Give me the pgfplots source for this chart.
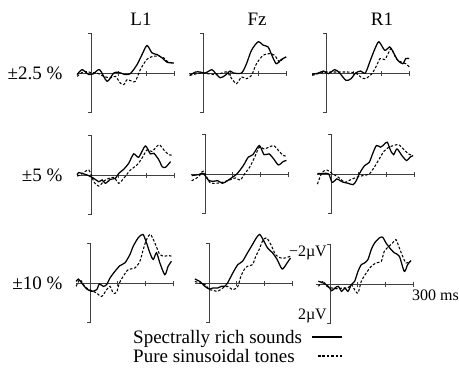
\documentclass[border=0pt]{standalone}
\usepackage{fontspec}
\setmainfont{Liberation Serif}
\usepackage{pgfplots}
\pgfplotsset{compat=1.18}
\pgfplotsset{
  erp/.style={scale only axis, width=97bp, height=79bp, xmin=-50, xmax=300,
    ymin=-2, ymax=2, y dir=reverse, hide axis, clip=false, anchor=origin},
  sol/.style={black, line width=1.25bp, smooth, tension=0.45, no marks},
  dsh/.style={black, line width=1.05bp, smooth, tension=0.45, no marks, dash pattern=on 2.6bp off 1.8bp},
}
\tikzset{axl/.style={black!75, line width=0.6bp}}
\newcommand\erpaxes{%
  \draw[axl] ([xshift=-3bp]axis cs:0,-2) -- (axis cs:0,-2) -- (axis cs:0,2) -- ([xshift=-3bp]axis cs:0,2);
  \draw[axl] (axis cs:-50,0) -- (axis cs:300,0);
  \draw[axl] ([yshift=-2.5bp]axis cs:100,0) -- ([yshift=2.5bp]axis cs:100,0);
  \draw[axl] ([yshift=-2.5bp]axis cs:200,0) -- ([yshift=2.5bp]axis cs:200,0);
  \draw[axl] ([yshift=-2.5bp]axis cs:300,0) -- ([yshift=2.5bp]axis cs:300,0);
}
\newcommand\bigfnt{\fontsize{19bp}{22bp}\selectfont}
\newcommand\smallfnt{\fontsize{16bp}{19bp}\selectfont}
\begin{document}
\begin{tikzpicture}
\useasboundingbox (0,0) rectangle (459bp,-371bp);
% column titles
\node[font=\bigfnt] at (141bp,-19bp) {L1};
\node[font=\bigfnt] at (257bp,-19bp) {Fz};
\node[font=\bigfnt] at (382bp,-19bp) {R1};
% row titles
\node[font=\bigfnt, anchor=east] at (66bp,-73bp) {±2.5 \%};
\node[font=\bigfnt, anchor=east] at (66bp,-175bp) {±5 \%};
\node[font=\bigfnt, anchor=east] at (66bp,-283bp) {±10 \%};

% ---------- Row 1 ----------
\begin{axis}[erp, at={(91bp,-73bp)}]
\erpaxes
\addplot[sol] coordinates {(-50,0.08)(-32,-0.17)(-8,0.08)(10,0.03)(31,-0.17)(58,0.42)(82,0)(100,-0.03)(124,0.08)(142,0.03)(166,-0.42)(184,-0.93)(202,-1.39)(220,-1.02)(239,-0.93)(257,-0.76)(275,-0.54)(299,-0.51)};
\addplot[dsh] coordinates {(-50,0.17)(-26,-0.08)(-2,-0.03)(22,0)(46,0.17)(70,0.25)(88,0.17)(106,0.51)(118,0.59)(130,0.34)(148,0.42)(160,0.42)(178,-0.17)(196,-0.59)(208,-0.76)(226,-0.85)(245,-0.85)(263,-0.76)(275,-0.59)(293,-0.51)};
\end{axis}
\begin{axis}[erp, at={(203bp,-73bp)}]
\erpaxes
\addplot[sol] coordinates {(-48,0.12)(-27,-0.05)(-10,-0.05)(8,0)(32,-0.17)(44,0)(62,0.24)(80,0.12)(98,-0.1)(110,0)(139,0)(157,-0.47)(175,-1.15)(199,-1.58)(217,-1.41)(235,-1.32)(246,-0.98)(264,-0.47)(282,-0.68)(300,-0.81)};
\addplot[dsh] coordinates {(-48,0.12)(-10,0)(14,0.03)(38,0.07)(62,0.03)(86,-0.05)(104,0.29)(121,0.54)(139,0.2)(157,0.29)(175,0.12)(193,-0.47)(217,-0.9)(240,-0.98)(258,-0.9)(276,-0.56)(288,-0.73)(300,-0.81)};
\end{axis}
\begin{axis}[erp, at={(326bp,-73bp)}]
\erpaxes
\addplot[sol] coordinates {(-50,0.07)(-27,0)(-9,-0.1)(8,0.03)(32,-0.17)(49,0)(72,0.37)(90,0.29)(107,0)(125,-0.1)(142,0)(160,-0.64)(177,-1.24)(191,-1.58)(212,-1.15)(230,-1.32)(242,-1.07)(259,-0.64)(277,-0.47)(288,-0.73)(300,-0.73)};
\addplot[dsh] coordinates {(-50,0.12)(-27,0.03)(-4,-0.05)(14,-0.05)(37,-0.05)(61,-0.05)(78,-0.05)(107,0)(125,0.2)(142,0.29)(166,0.03)(183,-0.39)(195,-0.73)(212,-0.68)(224,-0.98)(236,-1.24)(253,-0.73)(271,-0.56)(288,-0.47)(300,-0.31)};
\end{axis}

% ---------- Row 2 ----------
\begin{axis}[erp, at={(91bp,-175bp)}]
\erpaxes
\addplot[sol] coordinates {(-50,0)(-45,-0.12)(-33,-0.08)(-14,0)(10,0.17)(28,0.34)(40,0.25)(52,0.42)(70,0.22)(88,0.17)(100,-0.08)(118,-0.29)(136,-0.59)(154,-1.07)(172,-0.9)(196,-1.47)(214,-1.07)(227,-1.1)(245,-0.76)(257,-0.42)(269,-0.39)(287,-0.68)};
\addplot[dsh] coordinates {(-50,0.05)(-39,0)(-8,-0.25)(10,0.34)(28,0.56)(52,0.25)(82,0.12)(100,0.42)(118,0.17)(142,-0.25)(166,-0.51)(184,-0.85)(202,-1.27)(220,-1.19)(245,-1.53)(263,-1.27)(281,-1.02)(293,-1.02)};
\end{axis}
\begin{axis}[erp, at={(205bp,-174bp)}]
\erpaxes
\addplot[sol] coordinates {(-48,0.08)(-23,0.03)(-6,-0.03)(12,0.31)(29,0.37)(46,0.34)(63,0.47)(81,0.34)(98,0.17)(115,0)(138,-0.42)(156,-0.85)(173,-0.98)(196,-1.44)(213,-0.98)(231,-1.02)(248,-0.76)(265,-0.46)(283,-0.64)(294,-0.68)};
\addplot[dsh] coordinates {(-48,0.34)(-23,0.14)(-6,-0.14)(17,0.42)(40,0.47)(63,0.42)(87,0.31)(110,0.2)(127,0.31)(144,-0.03)(161,-0.34)(179,-0.85)(196,-1.36)(213,-1.27)(231,-1.36)(248,-1.44)(265,-1.19)(283,-0.93)(294,-0.93)};
\end{axis}
\begin{axis}[erp, at={(331bp,-174bp)}]
\erpaxes
\addplot[sol] coordinates {(-49,-0.03)(-26,-0.03)(-8,0)(4,0.42)(21,0.25)(33,0.34)(45,0.42)(62,0.47)(80,0.54)(91,0.34)(103,-0.03)(121,-0.42)(138,-0.59)(150,-1.02)(164,-1.44)(179,-1.36)(191,-1.49)(203,-1.61)(215,-1.19)(226,-0.98)(238,-1.27)(256,-0.93)(273,-0.68)(285,-0.85)(296,-0.93)};
\addplot[dsh] coordinates {(-49,0.51)(-32,-0.08)(-14,-0.2)(4,-0.03)(27,0.17)(50,0.42)(68,0.31)(91,0.17)(115,0.08)(138,0)(156,-0.34)(174,-0.76)(191,-1.15)(209,-1.36)(226,-1.44)(244,-1.49)(261,-1.27)(279,-1.02)(296,-0.93)};
\end{axis}

% ---------- Row 3 ----------
\begin{axis}[erp, at={(90bp,-283bp)}]
\erpaxes
\addplot[sol] coordinates {(-50,-0.08)(-42,-0.2)(-30,0)(-12,0.3)(6,0.42)(24,0.34)(34,0.05)(48,0.17)(60,0.08)(72,-0.25)(90,-0.59)(108,-0.88)(126,-1.02)(144,-1.44)(156,-1.86)(174,-2.29)(191,-2.46)(204,-2.03)(216,-1.53)(228,-1.19)(240,-1.53)(252,-1.02)(270,-0.42)(282,-0.85)(294,-1.1)};
\addplot[dsh] coordinates {(-50,0.17)(-36,-0.17)(-18,0.2)(0,0.34)(24,0.51)(42,0.68)(60,0.34)(72,0.17)(84,0.51)(96,0.47)(106,0)(120,-0.34)(138,-0.68)(162,-0.76)(180,-1.1)(192,-1.69)(204,-2.2)(218,-2.46)(234,-2.03)(252,-1.44)(270,-1.36)(282,-1.39)(294,-1.36)};
\end{axis}
\begin{axis}[erp, at={(209bp,-283bp)}]
\erpaxes
\addplot[sol] coordinates {(-51,-0.2)(-33,-0.08)(-15,0.17)(2,0.31)(14,0.25)(32,0.25)(44,0.17)(56,0.17)(68,-0.03)(86,-0.51)(104,-0.93)(121,-1.1)(139,-1.53)(157,-1.95)(171,-2.29)(183,-2.46)(195,-2.2)(211,-1.78)(229,-1.53)(246,-1.19)(264,-0.71)(282,-1.02)(294,-1.27)};
\addplot[dsh] coordinates {(-51,-0.08)(-33,0)(-15,0.08)(2,0.34)(14,0.37)(32,0.42)(50,0.25)(68,0.17)(86,0.34)(104,0.17)(115,-0.34)(127,-0.68)(139,-0.85)(157,-0.93)(169,-1.36)(181,-1.69)(193,-2.12)(207,-2.29)(223,-1.95)(240,-1.44)(258,-1.27)(276,-1.27)(294,-1.36)};
\end{axis}
\begin{axis}[erp, at={(330bp,-284bp)}]
\erpaxes
\addplot[sol] coordinates {(-42,-0.14)(-24,-0.05)(-6,0.12)(6,0.34)(18,0.2)(30,0.12)(42,0.37)(54,0.2)(65,0.37)(77,0.03)(89,-0.14)(101,-0.64)(113,-0.98)(125,-1.07)(137,-1.24)(149,-1.75)(161,-2.08)(179,-2.34)(190,-2.37)(202,-2.08)(220,-1.75)(232,-1.58)(250,-1.41)(268,-0.64)(280,-0.98)(292,-1.19)};
\addplot[dsh] coordinates {(-42,0.12)(-24,-0.14)(-12,0.12)(6,0.2)(24,0.24)(48,0.2)(65,0.2)(77,0.03)(89,0.29)(101,0.46)(113,-0.14)(131,-0.56)(149,-0.9)(167,-1.07)(185,-1.15)(196,-1.66)(214,-1.92)(226,-2.08)(238,-2.25)(250,-1.83)(262,-1.41)(274,-1.07)(292,-1.15)};
\end{axis}

% scale labels
\node[font=\smallfnt, anchor=base east, inner sep=0pt] at (327bp,-256bp) {−2µV};
\node[font=\smallfnt, anchor=base east, inner sep=0pt] at (327bp,-319bp) {2µV};
\node[font=\smallfnt, anchor=base west, inner sep=0pt] at (412bp,-300bp) {300 ms};

% legend
\node[font=\bigfnt, anchor=base west, inner sep=0pt] at (133bp,-343bp) {Spectrally rich sounds};
\draw[black, line width=1.25bp] (312bp,-337bp) -- (342bp,-337bp);
\node[font=\bigfnt, anchor=base west, inner sep=0pt] at (133bp,-362bp) {Pure sinusoidal tones};
\draw[black, line width=1.05bp, dash pattern=on 2.6bp off 1.8bp] (318bp,-356bp) -- (342bp,-356bp);
\end{tikzpicture}
\end{document}
